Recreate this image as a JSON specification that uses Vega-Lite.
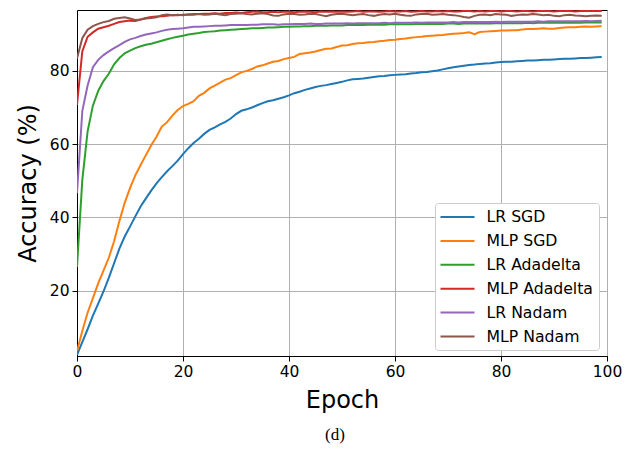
{
  "$schema": "https://vega.github.io/schema/vega-lite/v6.json",
  "autosize": {"type": "none"},
  "width": 530,
  "height": 346,
  "padding": {"left": 77, "top": 10, "right": 27, "bottom": 93},
  "background": "white",
  "config": {
    "font": "DejaVu Sans",
    "view": {"stroke": "black", "strokeWidth": 1},
    "axis": {"labelColor": "black", "titleColor": "black", "tickColor": "black", "domainColor": "black", "labelFontSize": 15.5, "titleFontSize": 24, "titleFontWeight": "normal", "tickSize": 5, "labelPadding": 3, "gridColor": "#b0b0b0", "gridWidth": 1, "labelFont": "DejaVu Sans", "titleFont": "DejaVu Sans", "labelFlush": false}
  },
  "title": {"text": "(d)", "orient": "bottom", "anchor": "middle", "font": "Liberation Serif", "fontSize": 17, "fontWeight": "normal", "color": "black", "offset": 14, "dx": -7},
  "data": {"values": [
    {"epoch":0,"LR SGD":2.5,"MLP SGD":3.5,"LR Adadelta":26.5,"MLP Adadelta":70.7,"LR Nadam":46.6,"MLP Nadam":83.4},
    {"epoch":1,"LR SGD":6.0,"MLP SGD":9.0,"LR Adadelta":50.2,"MLP Adadelta":85.3,"LR Nadam":69.0,"MLP Nadam":88.9},
    {"epoch":2,"LR SGD":9.5,"MLP SGD":14.0,"LR Adadelta":63.5,"MLP Adadelta":89.3,"LR Nadam":76.0,"MLP Nadam":91.2},
    {"epoch":3,"LR SGD":13.2,"MLP SGD":18.0,"LR Adadelta":70.5,"MLP Adadelta":90.5,"LR Nadam":81.0,"MLP Nadam":92.2},
    {"epoch":4,"LR SGD":16.5,"MLP SGD":22.0,"LR Adadelta":74.5,"MLP Adadelta":91.5,"LR Nadam":83.0,"MLP Nadam":92.8},
    {"epoch":5,"LR SGD":19.8,"MLP SGD":25.5,"LR Adadelta":77.2,"MLP Adadelta":91.9,"LR Nadam":84.3,"MLP Nadam":93.3},
    {"epoch":6,"LR SGD":23.5,"MLP SGD":29.0,"LR Adadelta":79.2,"MLP Adadelta":92.3,"LR Nadam":85.3,"MLP Nadam":93.6},
    {"epoch":7,"LR SGD":27.5,"MLP SGD":33.5,"LR Adadelta":81.8,"MLP Adadelta":92.8,"LR Nadam":86.2,"MLP Nadam":94.2},
    {"epoch":8,"LR SGD":31.5,"MLP SGD":39.0,"LR Adadelta":83.5,"MLP Adadelta":93.3,"LR Nadam":87.0,"MLP Nadam":94.4},
    {"epoch":9,"LR SGD":34.8,"MLP SGD":44.0,"LR Adadelta":84.8,"MLP Adadelta":93.5,"LR Nadam":87.9,"MLP Nadam":94.6},
    {"epoch":10,"LR SGD":37.5,"MLP SGD":48.0,"LR Adadelta":85.5,"MLP Adadelta":93.7,"LR Nadam":88.6,"MLP Nadam":94.3},
    {"epoch":11,"LR SGD":40.3,"MLP SGD":51.5,"LR Adadelta":86.2,"MLP Adadelta":93.6,"LR Nadam":89.0,"MLP Nadam":93.9},
    {"epoch":12,"LR SGD":43.0,"MLP SGD":54.3,"LR Adadelta":86.7,"MLP Adadelta":94.0,"LR Nadam":89.5,"MLP Nadam":94.0},
    {"epoch":13,"LR SGD":45.2,"MLP SGD":57.0,"LR Adadelta":87.1,"MLP Adadelta":94.4,"LR Nadam":89.9,"MLP Nadam":94.3},
    {"epoch":14,"LR SGD":47.3,"MLP SGD":59.7,"LR Adadelta":87.4,"MLP Adadelta":94.7,"LR Nadam":90.2,"MLP Nadam":94.4},
    {"epoch":15,"LR SGD":49.3,"MLP SGD":62.0,"LR Adadelta":87.8,"MLP Adadelta":94.8,"LR Nadam":90.5,"MLP Nadam":94.6},
    {"epoch":16,"LR SGD":51.0,"MLP SGD":64.8,"LR Adadelta":88.2,"MLP Adadelta":94.9,"LR Nadam":90.9,"MLP Nadam":95.2},
    {"epoch":17,"LR SGD":52.6,"MLP SGD":66.0,"LR Adadelta":88.6,"MLP Adadelta":95.0,"LR Nadam":91.2,"MLP Nadam":95.4},
    {"epoch":18,"LR SGD":54.0,"MLP SGD":67.8,"LR Adadelta":89.0,"MLP Adadelta":95.2,"LR Nadam":91.4,"MLP Nadam":95.2},
    {"epoch":19,"LR SGD":55.5,"MLP SGD":69.3,"LR Adadelta":89.3,"MLP Adadelta":95.2,"LR Nadam":91.5,"MLP Nadam":95.3},
    {"epoch":20,"LR SGD":57.3,"MLP SGD":70.4,"LR Adadelta":89.6,"MLP Adadelta":95.3,"LR Nadam":91.6,"MLP Nadam":95.2},
    {"epoch":21,"LR SGD":58.9,"MLP SGD":71.0,"LR Adadelta":89.9,"MLP Adadelta":95.4,"LR Nadam":91.8,"MLP Nadam":95.4},
    {"epoch":22,"LR SGD":60.3,"MLP SGD":71.7,"LR Adadelta":90.1,"MLP Adadelta":95.5,"LR Nadam":92.0,"MLP Nadam":95.3},
    {"epoch":23,"LR SGD":61.5,"MLP SGD":73.2,"LR Adadelta":90.3,"MLP Adadelta":95.5,"LR Nadam":92.0,"MLP Nadam":95.5},
    {"epoch":24,"LR SGD":62.8,"MLP SGD":74.0,"LR Adadelta":90.6,"MLP Adadelta":95.6,"LR Nadam":92.1,"MLP Nadam":95.3},
    {"epoch":25,"LR SGD":63.9,"MLP SGD":75.2,"LR Adadelta":90.7,"MLP Adadelta":95.6,"LR Nadam":92.2,"MLP Nadam":95.4},
    {"epoch":26,"LR SGD":64.6,"MLP SGD":76.0,"LR Adadelta":90.8,"MLP Adadelta":95.7,"LR Nadam":92.3,"MLP Nadam":95.6},
    {"epoch":27,"LR SGD":65.4,"MLP SGD":76.8,"LR Adadelta":91.0,"MLP Adadelta":95.6,"LR Nadam":92.3,"MLP Nadam":95.4},
    {"epoch":28,"LR SGD":66.1,"MLP SGD":77.6,"LR Adadelta":91.1,"MLP Adadelta":95.8,"LR Nadam":92.4,"MLP Nadam":95.2},
    {"epoch":29,"LR SGD":67.0,"MLP SGD":78.0,"LR Adadelta":91.2,"MLP Adadelta":95.8,"LR Nadam":92.5,"MLP Nadam":95.5},
    {"epoch":30,"LR SGD":68.2,"MLP SGD":78.8,"LR Adadelta":91.3,"MLP Adadelta":95.9,"LR Nadam":92.5,"MLP Nadam":95.6},
    {"epoch":31,"LR SGD":69.1,"MLP SGD":79.6,"LR Adadelta":91.4,"MLP Adadelta":95.8,"LR Nadam":92.5,"MLP Nadam":95.7},
    {"epoch":32,"LR SGD":69.5,"MLP SGD":80.0,"LR Adadelta":91.5,"MLP Adadelta":96.0,"LR Nadam":92.5,"MLP Nadam":95.5},
    {"epoch":33,"LR SGD":70.0,"MLP SGD":80.5,"LR Adadelta":91.6,"MLP Adadelta":96.1,"LR Nadam":92.6,"MLP Nadam":95.4},
    {"epoch":34,"LR SGD":70.6,"MLP SGD":81.2,"LR Adadelta":91.6,"MLP Adadelta":96.2,"LR Nadam":92.6,"MLP Nadam":95.6},
    {"epoch":35,"LR SGD":71.2,"MLP SGD":81.5,"LR Adadelta":91.7,"MLP Adadelta":96.0,"LR Nadam":92.7,"MLP Nadam":95.7},
    {"epoch":36,"LR SGD":71.7,"MLP SGD":82.0,"LR Adadelta":91.8,"MLP Adadelta":96.0,"LR Nadam":92.7,"MLP Nadam":95.5},
    {"epoch":37,"LR SGD":72.0,"MLP SGD":82.5,"LR Adadelta":91.8,"MLP Adadelta":96.1,"LR Nadam":92.7,"MLP Nadam":95.1},
    {"epoch":38,"LR SGD":72.4,"MLP SGD":82.7,"LR Adadelta":91.9,"MLP Adadelta":96.0,"LR Nadam":92.6,"MLP Nadam":95.0},
    {"epoch":39,"LR SGD":72.8,"MLP SGD":83.2,"LR Adadelta":92.0,"MLP Adadelta":96.1,"LR Nadam":92.7,"MLP Nadam":95.4},
    {"epoch":40,"LR SGD":73.3,"MLP SGD":83.5,"LR Adadelta":92.0,"MLP Adadelta":96.1,"LR Nadam":92.7,"MLP Nadam":95.6},
    {"epoch":41,"LR SGD":73.9,"MLP SGD":83.8,"LR Adadelta":92.1,"MLP Adadelta":96.0,"LR Nadam":92.8,"MLP Nadam":95.5},
    {"epoch":42,"LR SGD":74.3,"MLP SGD":84.6,"LR Adadelta":92.1,"MLP Adadelta":96.1,"LR Nadam":92.8,"MLP Nadam":95.3},
    {"epoch":43,"LR SGD":74.8,"MLP SGD":84.8,"LR Adadelta":92.2,"MLP Adadelta":96.2,"LR Nadam":92.8,"MLP Nadam":95.4},
    {"epoch":44,"LR SGD":75.2,"MLP SGD":85.0,"LR Adadelta":92.2,"MLP Adadelta":96.1,"LR Nadam":92.9,"MLP Nadam":95.6},
    {"epoch":45,"LR SGD":75.6,"MLP SGD":85.3,"LR Adadelta":92.3,"MLP Adadelta":96.0,"LR Nadam":92.8,"MLP Nadam":95.5},
    {"epoch":46,"LR SGD":75.9,"MLP SGD":85.7,"LR Adadelta":92.3,"MLP Adadelta":96.2,"LR Nadam":92.8,"MLP Nadam":95.2},
    {"epoch":47,"LR SGD":76.1,"MLP SGD":86.0,"LR Adadelta":92.3,"MLP Adadelta":96.1,"LR Nadam":92.9,"MLP Nadam":94.9},
    {"epoch":48,"LR SGD":76.4,"MLP SGD":86.1,"LR Adadelta":92.4,"MLP Adadelta":96.2,"LR Nadam":92.9,"MLP Nadam":95.3},
    {"epoch":49,"LR SGD":76.7,"MLP SGD":86.5,"LR Adadelta":92.4,"MLP Adadelta":96.1,"LR Nadam":92.9,"MLP Nadam":95.5},
    {"epoch":50,"LR SGD":77.0,"MLP SGD":86.9,"LR Adadelta":92.4,"MLP Adadelta":96.2,"LR Nadam":92.9,"MLP Nadam":95.6},
    {"epoch":51,"LR SGD":77.4,"MLP SGD":87.0,"LR Adadelta":92.5,"MLP Adadelta":96.1,"LR Nadam":93.0,"MLP Nadam":95.4},
    {"epoch":52,"LR SGD":77.7,"MLP SGD":87.3,"LR Adadelta":92.5,"MLP Adadelta":96.2,"LR Nadam":92.9,"MLP Nadam":95.2},
    {"epoch":53,"LR SGD":77.8,"MLP SGD":87.5,"LR Adadelta":92.5,"MLP Adadelta":96.3,"LR Nadam":93.0,"MLP Nadam":95.4},
    {"epoch":54,"LR SGD":77.9,"MLP SGD":87.6,"LR Adadelta":92.5,"MLP Adadelta":96.1,"LR Nadam":93.0,"MLP Nadam":95.5},
    {"epoch":55,"LR SGD":78.1,"MLP SGD":87.8,"LR Adadelta":92.6,"MLP Adadelta":96.2,"LR Nadam":93.0,"MLP Nadam":95.2},
    {"epoch":56,"LR SGD":78.3,"MLP SGD":87.9,"LR Adadelta":92.6,"MLP Adadelta":96.2,"LR Nadam":93.0,"MLP Nadam":95.0},
    {"epoch":57,"LR SGD":78.5,"MLP SGD":88.1,"LR Adadelta":92.6,"MLP Adadelta":96.1,"LR Nadam":93.0,"MLP Nadam":95.3},
    {"epoch":58,"LR SGD":78.6,"MLP SGD":88.2,"LR Adadelta":92.6,"MLP Adadelta":96.2,"LR Nadam":93.1,"MLP Nadam":95.5},
    {"epoch":59,"LR SGD":78.8,"MLP SGD":88.4,"LR Adadelta":92.7,"MLP Adadelta":96.3,"LR Nadam":93.0,"MLP Nadam":95.4},
    {"epoch":60,"LR SGD":78.9,"MLP SGD":88.5,"LR Adadelta":92.7,"MLP Adadelta":96.2,"LR Nadam":93.1,"MLP Nadam":95.6},
    {"epoch":61,"LR SGD":79.0,"MLP SGD":88.7,"LR Adadelta":92.7,"MLP Adadelta":96.2,"LR Nadam":93.1,"MLP Nadam":95.3},
    {"epoch":62,"LR SGD":79.1,"MLP SGD":88.8,"LR Adadelta":92.7,"MLP Adadelta":96.3,"LR Nadam":93.1,"MLP Nadam":95.1},
    {"epoch":63,"LR SGD":79.3,"MLP SGD":89.0,"LR Adadelta":92.7,"MLP Adadelta":96.1,"LR Nadam":93.1,"MLP Nadam":95.0},
    {"epoch":64,"LR SGD":79.4,"MLP SGD":89.2,"LR Adadelta":92.8,"MLP Adadelta":96.2,"LR Nadam":93.2,"MLP Nadam":95.4},
    {"epoch":65,"LR SGD":79.6,"MLP SGD":89.3,"LR Adadelta":92.8,"MLP Adadelta":96.3,"LR Nadam":93.1,"MLP Nadam":95.5},
    {"epoch":66,"LR SGD":79.7,"MLP SGD":89.5,"LR Adadelta":92.8,"MLP Adadelta":96.2,"LR Nadam":93.2,"MLP Nadam":95.6},
    {"epoch":67,"LR SGD":79.9,"MLP SGD":89.6,"LR Adadelta":92.8,"MLP Adadelta":96.2,"LR Nadam":93.2,"MLP Nadam":95.3},
    {"epoch":68,"LR SGD":80.1,"MLP SGD":89.7,"LR Adadelta":92.8,"MLP Adadelta":96.3,"LR Nadam":93.2,"MLP Nadam":95.4},
    {"epoch":69,"LR SGD":80.4,"MLP SGD":89.8,"LR Adadelta":92.8,"MLP Adadelta":96.2,"LR Nadam":93.2,"MLP Nadam":95.5},
    {"epoch":70,"LR SGD":80.7,"MLP SGD":90.0,"LR Adadelta":92.9,"MLP Adadelta":96.3,"LR Nadam":93.2,"MLP Nadam":95.3},
    {"epoch":71,"LR SGD":81.0,"MLP SGD":90.1,"LR Adadelta":92.9,"MLP Adadelta":96.2,"LR Nadam":93.3,"MLP Nadam":95.2},
    {"epoch":72,"LR SGD":81.2,"MLP SGD":90.2,"LR Adadelta":92.8,"MLP Adadelta":96.2,"LR Nadam":93.2,"MLP Nadam":95.0},
    {"epoch":73,"LR SGD":81.4,"MLP SGD":90.3,"LR Adadelta":92.9,"MLP Adadelta":96.3,"LR Nadam":93.3,"MLP Nadam":94.7},
    {"epoch":74,"LR SGD":81.6,"MLP SGD":90.5,"LR Adadelta":92.9,"MLP Adadelta":96.3,"LR Nadam":93.3,"MLP Nadam":94.5},
    {"epoch":75,"LR SGD":81.7,"MLP SGD":90.0,"LR Adadelta":92.9,"MLP Adadelta":96.2,"LR Nadam":93.3,"MLP Nadam":95.0},
    {"epoch":76,"LR SGD":81.9,"MLP SGD":90.6,"LR Adadelta":92.9,"MLP Adadelta":96.3,"LR Nadam":93.3,"MLP Nadam":95.3},
    {"epoch":77,"LR SGD":82.0,"MLP SGD":90.7,"LR Adadelta":93.0,"MLP Adadelta":96.2,"LR Nadam":93.3,"MLP Nadam":95.4},
    {"epoch":78,"LR SGD":82.1,"MLP SGD":90.8,"LR Adadelta":92.9,"MLP Adadelta":96.3,"LR Nadam":93.3,"MLP Nadam":95.2},
    {"epoch":79,"LR SGD":82.3,"MLP SGD":90.9,"LR Adadelta":93.0,"MLP Adadelta":96.3,"LR Nadam":93.4,"MLP Nadam":95.5},
    {"epoch":80,"LR SGD":82.4,"MLP SGD":91.0,"LR Adadelta":93.0,"MLP Adadelta":96.2,"LR Nadam":93.3,"MLP Nadam":95.4},
    {"epoch":81,"LR SGD":82.5,"MLP SGD":91.0,"LR Adadelta":93.0,"MLP Adadelta":96.3,"LR Nadam":93.4,"MLP Nadam":95.3},
    {"epoch":82,"LR SGD":82.5,"MLP SGD":91.1,"LR Adadelta":93.0,"MLP Adadelta":96.3,"LR Nadam":93.4,"MLP Nadam":95.0},
    {"epoch":83,"LR SGD":82.6,"MLP SGD":91.1,"LR Adadelta":93.0,"MLP Adadelta":96.2,"LR Nadam":93.4,"MLP Nadam":95.2},
    {"epoch":84,"LR SGD":82.7,"MLP SGD":91.3,"LR Adadelta":93.0,"MLP Adadelta":96.3,"LR Nadam":93.4,"MLP Nadam":95.4},
    {"epoch":85,"LR SGD":82.8,"MLP SGD":91.4,"LR Adadelta":93.1,"MLP Adadelta":96.3,"LR Nadam":93.4,"MLP Nadam":95.3},
    {"epoch":86,"LR SGD":82.8,"MLP SGD":91.4,"LR Adadelta":93.0,"MLP Adadelta":96.2,"LR Nadam":93.4,"MLP Nadam":95.5},
    {"epoch":87,"LR SGD":82.9,"MLP SGD":91.5,"LR Adadelta":93.1,"MLP Adadelta":96.3,"LR Nadam":93.5,"MLP Nadam":95.4},
    {"epoch":88,"LR SGD":83.0,"MLP SGD":91.6,"LR Adadelta":93.1,"MLP Adadelta":96.3,"LR Nadam":93.4,"MLP Nadam":95.2},
    {"epoch":89,"LR SGD":83.0,"MLP SGD":91.5,"LR Adadelta":93.1,"MLP Adadelta":96.3,"LR Nadam":93.5,"MLP Nadam":95.3},
    {"epoch":90,"LR SGD":83.1,"MLP SGD":91.5,"LR Adadelta":93.1,"MLP Adadelta":96.2,"LR Nadam":93.5,"MLP Nadam":95.0},
    {"epoch":91,"LR SGD":83.2,"MLP SGD":91.7,"LR Adadelta":93.1,"MLP Adadelta":96.3,"LR Nadam":93.5,"MLP Nadam":94.9},
    {"epoch":92,"LR SGD":83.3,"MLP SGD":91.8,"LR Adadelta":93.1,"MLP Adadelta":96.3,"LR Nadam":93.5,"MLP Nadam":95.2},
    {"epoch":93,"LR SGD":83.3,"MLP SGD":91.9,"LR Adadelta":93.1,"MLP Adadelta":96.3,"LR Nadam":93.5,"MLP Nadam":95.3},
    {"epoch":94,"LR SGD":83.4,"MLP SGD":91.9,"LR Adadelta":93.2,"MLP Adadelta":96.2,"LR Nadam":93.5,"MLP Nadam":95.1},
    {"epoch":95,"LR SGD":83.5,"MLP SGD":92.0,"LR Adadelta":93.1,"MLP Adadelta":96.3,"LR Nadam":93.5,"MLP Nadam":95.0},
    {"epoch":96,"LR SGD":83.5,"MLP SGD":92.1,"LR Adadelta":93.2,"MLP Adadelta":96.3,"LR Nadam":93.6,"MLP Nadam":94.9},
    {"epoch":97,"LR SGD":83.6,"MLP SGD":92.0,"LR Adadelta":93.2,"MLP Adadelta":96.3,"LR Nadam":93.5,"MLP Nadam":95.0},
    {"epoch":98,"LR SGD":83.7,"MLP SGD":92.1,"LR Adadelta":93.2,"MLP Adadelta":96.3,"LR Nadam":93.6,"MLP Nadam":95.1},
    {"epoch":99,"LR SGD":83.8,"MLP SGD":92.2,"LR Adadelta":93.2,"MLP Adadelta":96.3,"LR Nadam":93.7,"MLP Nadam":95.0}
  ]},
  "transform": [
    {"fold": ["LR SGD", "MLP SGD", "LR Adadelta", "MLP Adadelta", "LR Nadam", "MLP Nadam"], "as": ["series", "acc"]}
  ],
  "mark": {"type": "line", "strokeWidth": 2, "clip": true},
  "encoding": {
    "x": {"field": "epoch", "type": "quantitative", "scale": {"domain": [0, 100], "nice": false, "zero": false},
      "axis": {"values": [0, 20, 40, 60, 80, 100], "title": "Epoch", "grid": true, "titlePadding": 9}},
    "y": {"field": "acc", "type": "quantitative", "scale": {"domain": [2.2, 96.6], "nice": false, "zero": false},
      "axis": {"values": [20, 40, 60, 80], "title": "Accuracy (%)", "grid": true, "titlePadding": 9}},
    "color": {"field": "series", "type": "nominal",
      "scale": {"domain": ["LR SGD", "MLP SGD", "LR Adadelta", "MLP Adadelta", "LR Nadam", "MLP Nadam"],
                "range": ["#1f77b4", "#ff7f0e", "#2ca02c", "#d62728", "#9467bd", "#8c564b"]},
      "legend": {"title": null, "orient": "none", "legendX": 358, "legendY": 193,
        "symbolType": "M-1.133,0H3.4", "symbolSize": 225, "symbolStrokeWidth": 2,
        "labelFontSize": 15.7, "labelColor": "black", "labelFont": "DejaVu Sans", "labelOffset": 29,
        "rowPadding": 6.9, "padding": 5.5, "fillColor": "white", "strokeColor": "#cccccc", "cornerRadius": 3}}
  }
}
